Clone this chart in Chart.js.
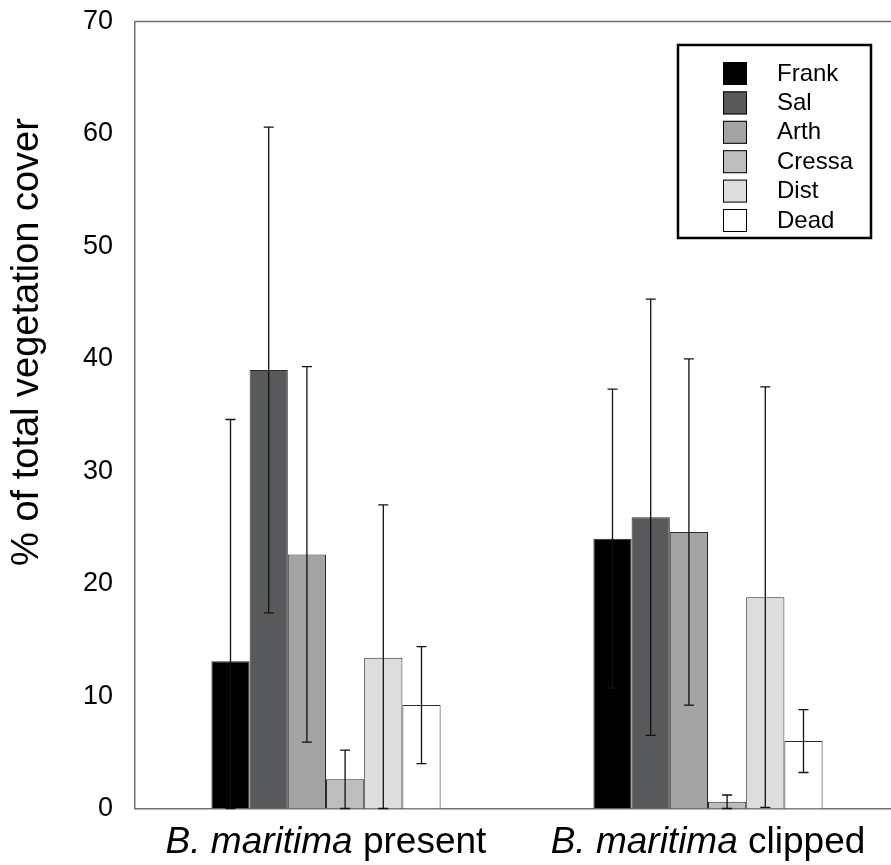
<!DOCTYPE html>
<html><head><meta charset="utf-8">
<script src="https://cdn.jsdelivr.net/npm/chart.js@4/dist/chart.umd.min.js"></script>
<style>html,body{margin:0;padding:0;overflow:hidden;background:#fff}#wrap{width:899px;height:865px}</style>
</head><body><div id="wrap"><canvas id="c" width="899" height="865"></canvas></div>
<script>
const categoriesItalic = ['B. maritima', 'B. maritima'];
const categoriesRoman = [' present', ' clipped'];
const categories = categoriesItalic.map((t, i) => t + categoriesRoman[i]);
const yTicks = [0, 10, 20, 30, 40, 50, 60, 70];
const seriesNames = ['Frank', 'Sal', 'Arth', 'Cressa', 'Dist', 'Dead'];
const frank = [13.1, 24.0];
const sal = [39.0, 25.9];
const arth = [22.6, 24.6];
const cressa = [2.6, 0.6];
const dist = [13.4, 18.8];
const dead = [9.2, 6.0];
const frankErr = [21.5, 13.3];
const salErr = [21.6, 19.4];
const arthErr = [16.7, 15.4];
const cressaErr = [2.6, 0.6];
const distErr = [13.6, 18.7];
const deadErr = [5.2, 2.8];
const yTitle = '% of total vegetation cover';

const FONT = '"Liberation Sans", Arial, sans-serif';
const colors = ['#000000', '#58595b', '#a4a4a4', '#bdbdbd', '#dcdddc', '#ffffff'];
const values = [frank, sal, arth, cressa, dist, dead];
const errors = [frankErr, salErr, arthErr, cressaErr, distErr, deadErr];

const datasets = seriesNames.map((n, i) => ({
  label: n, data: values[i], backgroundColor: colors[i],
  borderColor: '#2b2b2b', borderWidth: 1, borderSkipped: 'start',
  categoryPercentage: 0.6, barPercentage: 1.0
}));

const custom = {
  id: 'custom',
  afterDatasetsDraw(chart) {
    const ctx = chart.ctx, y = chart.scales.y;
    ctx.save();
    ctx.strokeStyle = '#111';
    ctx.lineWidth = 1.3;
    chart.data.datasets.forEach((ds, i) => {
      const meta = chart.getDatasetMeta(i);
      meta.data.forEach((bar, j) => {
        const v = ds.data[j], e = errors[i][j];
        const hi = y.getPixelForValue(v + e);
        const lo = y.getPixelForValue(Math.max(0, v - e));
        ctx.beginPath();
        ctx.moveTo(bar.x, hi); ctx.lineTo(bar.x, lo);
        ctx.moveTo(bar.x - 5, hi); ctx.lineTo(bar.x + 5, hi);
        ctx.moveTo(bar.x - 5, lo); ctx.lineTo(bar.x + 5, lo);
        ctx.stroke();
      });
    });
    ctx.restore();
  },
  afterDraw(chart) {
    const ctx = chart.ctx, a = chart.chartArea, x = chart.scales.x;
    ctx.save();
    ctx.strokeStyle = '#707070';
    ctx.lineWidth = 1.5;
    ctx.beginPath(); ctx.moveTo(a.left, a.top); ctx.lineTo(a.right, a.top); ctx.stroke();
    ctx.fillStyle = '#000';
    ctx.textBaseline = 'alphabetic';
    ctx.textAlign = 'left';
    const fs = 37;
    categories.forEach((c, i) => {
      const cx = x.getPixelForTick(i);
      ctx.font = 'italic ' + fs + 'px ' + FONT;
      const w1 = ctx.measureText(categoriesItalic[i]).width;
      ctx.font = fs + 'px ' + FONT;
      const w2 = ctx.measureText(categoriesRoman[i]).width;
      const sx = cx - (w1 + w2) / 2;
      ctx.font = 'italic ' + fs + 'px ' + FONT;
      ctx.fillText(categoriesItalic[i], sx, 853);
      ctx.font = fs + 'px ' + FONT;
      ctx.fillText(categoriesRoman[i], sx + w1, 853);
    });
    ctx.save();
    ctx.translate(28, 342);
    ctx.rotate(-Math.PI / 2);
    ctx.font = '38px ' + FONT;
    ctx.textAlign = 'center';
    ctx.textBaseline = 'middle';
    ctx.fillText(yTitle, 0, 0);
    ctx.restore();
    ctx.lineWidth = 2.5;
    ctx.strokeStyle = '#000';
    ctx.fillStyle = '#fff';
    ctx.fillRect(678, 45, 193, 193);
    ctx.strokeRect(678, 45, 193, 193);
    ctx.font = '24px ' + FONT;
    ctx.textBaseline = 'middle';
    ctx.textAlign = 'left';
    chart.data.datasets.forEach((ds, i) => {
      const top = 62 + i * 29.4;
      ctx.fillStyle = ds.backgroundColor;
      ctx.fillRect(723, top, 24, 23);
      ctx.lineWidth = 1;
      ctx.strokeStyle = '#000';
      ctx.strokeRect(723.5, top + 0.5, 23, 22);
      ctx.fillStyle = '#000';
      ctx.fillText(ds.label, 777, top + 12);
    });
    ctx.restore();
  }
};

new Chart(document.getElementById('c'), {
  type: 'bar',
  data: { labels: categories, datasets },
  plugins: [custom],
  options: {
    responsive: false,
    animation: false,
    layout: { padding: { top: 21.5, left: 0, right: 0, bottom: 0 } },
    plugins: { legend: { display: false }, tooltip: { enabled: false } },
    scales: {
      x: {
        offset: true,
        grid: { display: false, drawTicks: false },
        border: { display: true, color: '#707070', width: 1.5 },
        ticks: { display: false },
        afterFit(s) { s.height = 56.5; }
      },
      y: {
        min: 0, max: 70,
        afterBuildTicks(s) { s.ticks = yTicks.map(v => ({ value: v })); },
        grid: { display: false, drawTicks: false },
        border: { display: true, color: '#707070', width: 1.5 },
        ticks: { padding: 22, color: '#000', font: { size: 27, family: FONT } },
        afterFit(s) { s.width = 135; s.paddingTop = 0; s.paddingBottom = 0; }
      }
    }
  }
});
</script></body></html>
